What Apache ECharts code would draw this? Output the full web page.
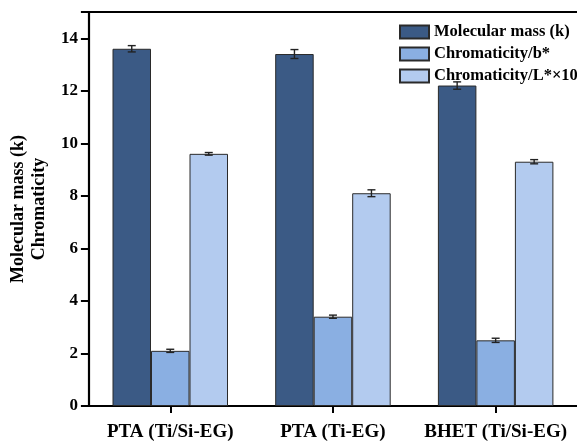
<!DOCTYPE html>
<html>
<head>
<meta charset="utf-8">
<script src="https://cdn.jsdelivr.net/npm/echarts@6/dist/echarts.min.js"></script>
<style>html,body{margin:0;padding:0;background:#fff}#c{width:577px;height:443px}</style>
</head>
<body>
<div id="c"></div>
<script>
var categories = ['PTA (Ti/Si-EG)', 'PTA (Ti-EG)', 'BHET (Ti/Si-EG)'];
var seriesNames = ['Molecular mass (k)', 'Chromaticity/b*', 'Chromaticity/L*\u00d710'];
var molecularMass = [13.6, 13.4, 12.2];
var molecularMassErr = [0.12, 0.17, 0.14];
var chromaB = [2.1, 3.4, 2.5];
var chromaBErr = [0.06, 0.06, 0.08];
var chromaL = [9.6, 8.1, 9.3];
var chromaLErr = [0.05, 0.13, 0.08];
var yTicks = [0, 2, 4, 6, 8, 10, 12, 14];

var colors = ['#3b5a85', '#8aafe2', '#b3cbef'];
var FONT = 'Liberation Serif';
var BW = 38.5;

var values = [molecularMass, chromaB, chromaL];
var errs = [molecularMassErr, chromaBErr, chromaLErr];

var series = [];
values.forEach(function (v, i) {
  series.push({
    name: seriesNames[i],
    type: 'bar',
    data: v,
    barWidth: BW,
    barGap: '0%',
    itemStyle: { color: colors[i], borderColor: '#2a2a2a', borderWidth: 1 }
  });
});
values.forEach(function (v, i) {
  series.push({
    type: 'custom',
    silent: true,
    z: 5,
    data: v.map(function (val, j) { return [j, val, errs[i][j]]; }),
    renderItem: function (params, api) {
      var c = api.value(0), val = api.value(1), e = api.value(2);
      var top = api.coord([c, val + e]);
      var bot = api.coord([c, val - e]);
      var x = top[0] + (i - 1) * BW;
      var hw = 4;
      var st = { stroke: '#222', lineWidth: 1.4 };
      return {
        type: 'group',
        children: [
          { type: 'line', shape: { x1: x, y1: top[1], x2: x, y2: bot[1] }, style: st },
          { type: 'line', shape: { x1: x - hw, y1: top[1], x2: x + hw, y2: top[1] }, style: st },
          { type: 'line', shape: { x1: x - hw, y1: bot[1], x2: x + hw, y2: bot[1] }, style: st }
        ]
      };
    }
  });
});

var chart = echarts.init(document.getElementById('c'), null, { renderer: 'canvas' });
chart.setOption({
  animation: false,
  backgroundColor: '#fff',
  textStyle: { fontFamily: FONT },
  grid: { left: 82, right: -1, top: 12, bottom: 37, containLabel: false },
  legend: {
    data: seriesNames,
    orient: 'vertical',
    left: 394,
    top: 18,
    icon: 'rect',
    itemWidth: 29,
    itemHeight: 13,
    itemGap: 4,
    textStyle: { fontFamily: FONT, fontWeight: 'bold', fontSize: 16.5, color: '#000', lineHeight: 18 }
  },
  xAxis: [{
    type: 'category',
    data: categories,
    axisLine: { lineStyle: { color: '#000', width: 2.2 } },
    axisTick: { show: true, alignWithLabel: true, length: 7, lineStyle: { color: '#000', width: 2 } },
    axisLabel: { interval: 0, fontFamily: FONT, fontWeight: 'bold', fontSize: 19, color: '#000', margin: 17 }
  }, {
    type: 'category',
    position: 'top',
    data: categories,
    axisLine: { show: true, lineStyle: { color: '#000', width: 2.2 } },
    axisTick: { show: false },
    axisLabel: { show: false }
  }],
  yAxis: {
    type: 'value',
    min: 0,
    max: 15,
    interval: 2,
    name: 'Molecular mass (k)\nChromaticity',
    nameLocation: 'middle',
    nameGap: 29,
    nameTextStyle: { fontFamily: FONT, fontWeight: 'bold', fontSize: 18, color: '#000', lineHeight: 21 },
    axisLine: { show: true, lineStyle: { color: '#000', width: 2.2 } },
    axisTick: { show: true, length: 8, lineStyle: { color: '#000', width: 2 } },
    axisLabel: {
      fontFamily: FONT, fontWeight: 'bold', fontSize: 17, color: '#000', margin: 11,
      formatter: function (v) { return yTicks.indexOf(v) >= 0 ? String(v) : ''; }
    },
    splitLine: { show: false }
  },
  series: series
});
</script>
</body>
</html>
